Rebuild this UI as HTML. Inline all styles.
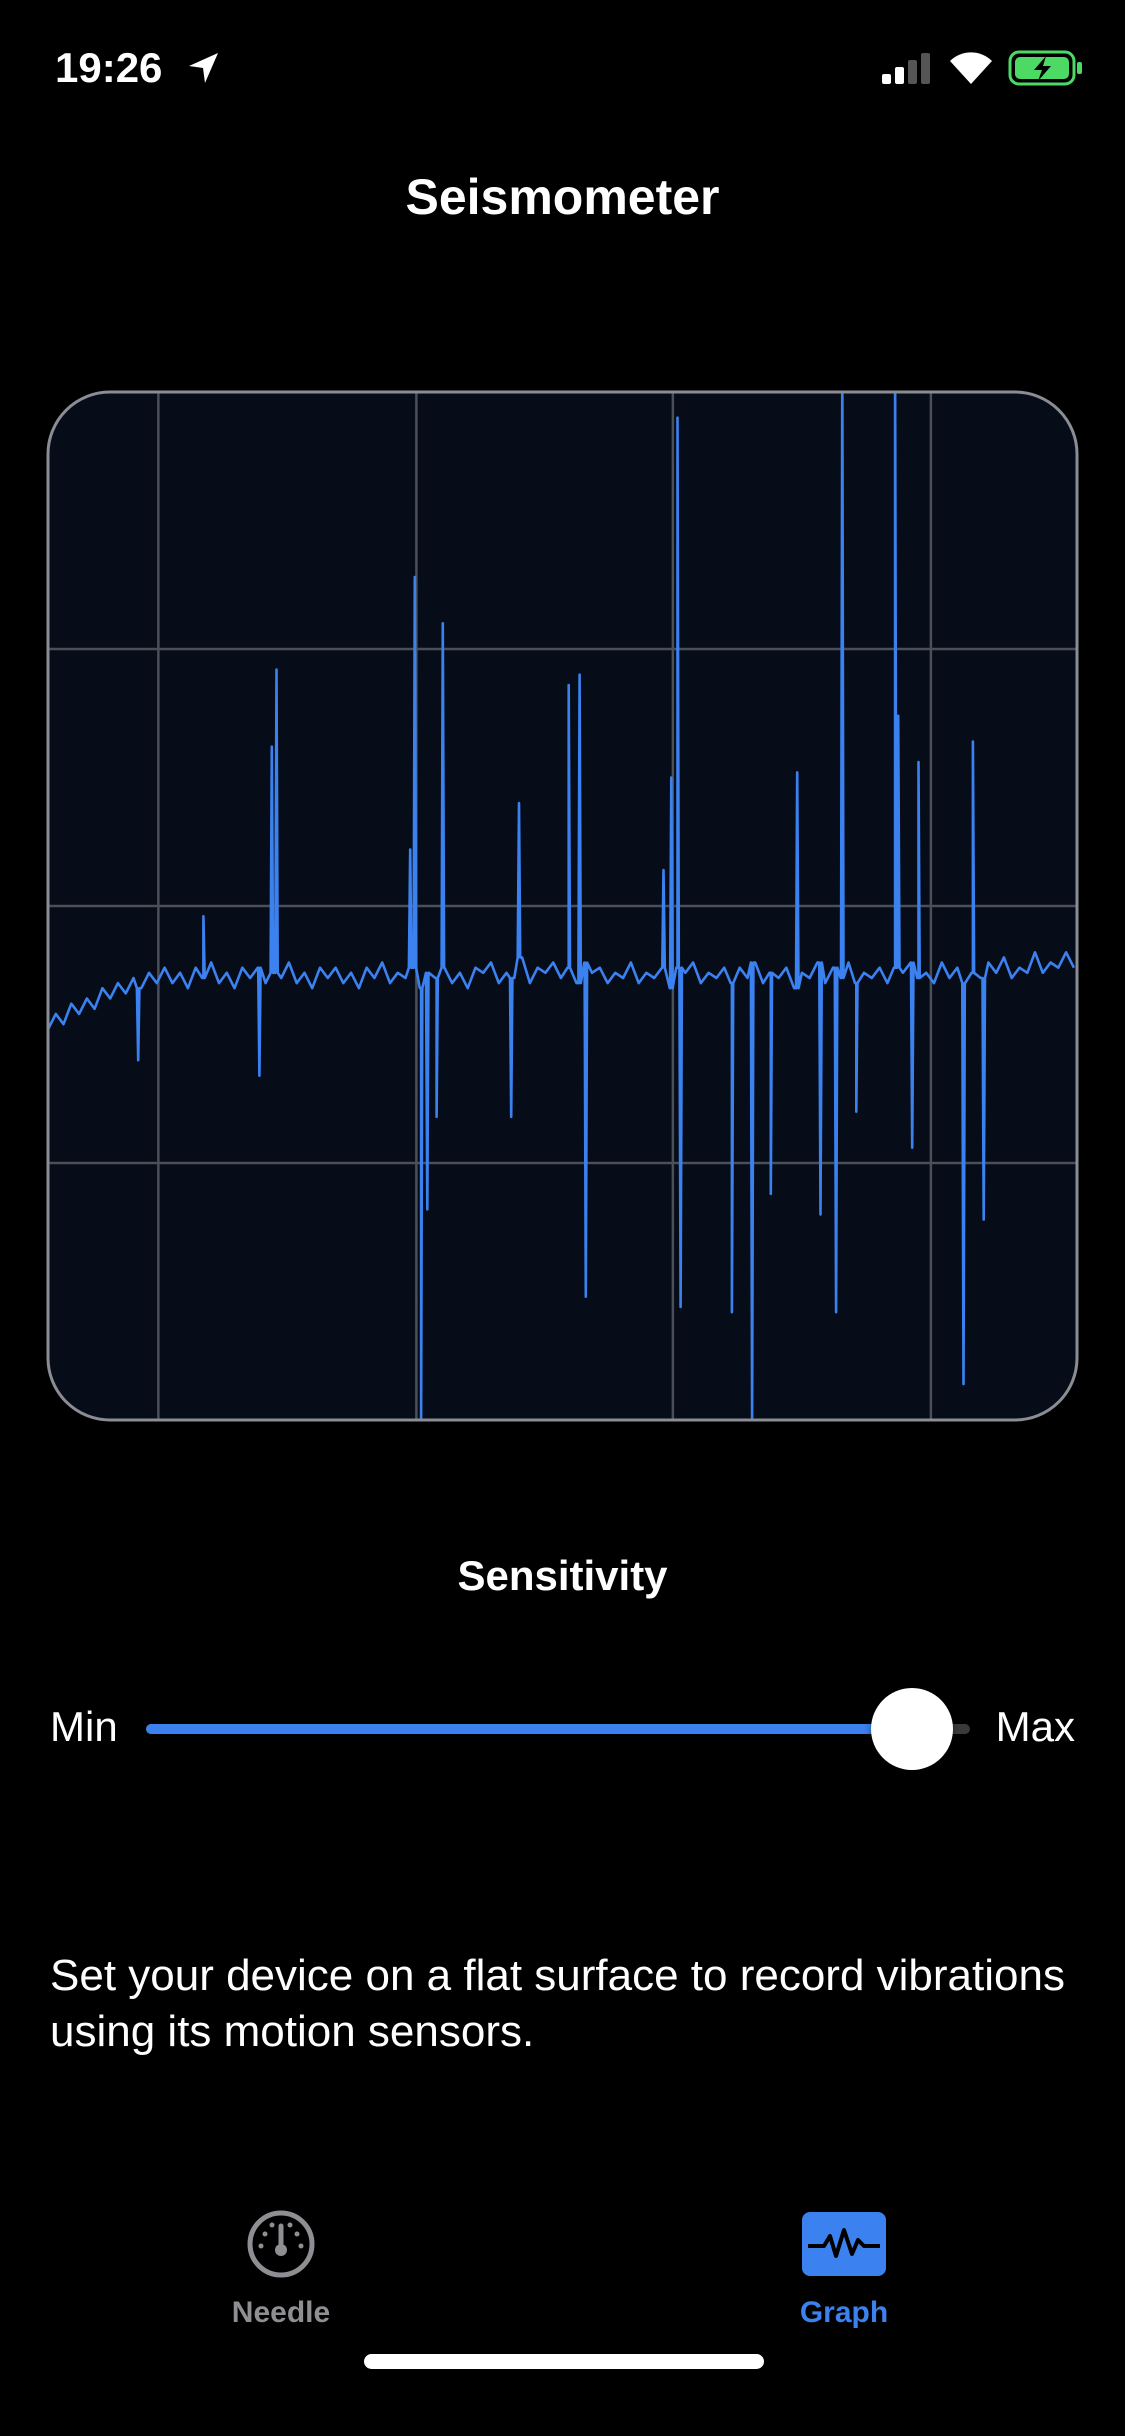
<!DOCTYPE html>
<html><head><meta charset="utf-8">
<style>
html,body{margin:0;padding:0;background:#000;}
body{width:1125px;height:2436px;position:relative;overflow:hidden;font-family:"Liberation Sans",sans-serif;color:#fff;}
.abs{position:absolute;}
</style></head>
<body>
<div class="abs" style="left:55px;top:44px;font-size:42px;font-weight:bold;">19:26</div>
<svg class="abs" style="left:186px;top:50px" width="36" height="36" viewBox="0 0 36 36"><path d="M32 3 L3 16 L17 18 L19 33 Z" fill="#fff"/></svg>
<svg class="abs" style="left:880px;top:50px" width="56" height="36"><rect x="2" y="24" width="9" height="10" rx="2" fill="#fff"/><rect x="15" y="17" width="9" height="17" rx="2" fill="#fff"/><rect x="28" y="10" width="9" height="24" rx="2" fill="#555"/><rect x="41" y="3" width="9" height="31" rx="2" fill="#555"/></svg>
<svg class="abs" style="left:948px;top:48px" width="46" height="38" viewBox="0 0 46 38"><path d="M23 36 L2 13 A30 30 0 0 1 44 13 Z" fill="#fff"/></svg>
<svg class="abs" style="left:1008px;top:50px" width="76" height="36"><rect x="2" y="2" width="64" height="32" rx="9" fill="none" stroke="#4cd964" stroke-width="3"/><rect x="7" y="7" width="54" height="22" rx="5" fill="#4cd964"/><rect x="69" y="12" width="5" height="12" rx="2" fill="#4cd964"/><path d="M38 6 L26 20 L34 20 L30 31 L43 16 L35 16 Z" fill="#000"/></svg>

<div class="abs" style="left:0;width:1125px;top:168px;text-align:center;font-size:50px;font-weight:bold;">Seismometer</div>

<svg class="abs" style="left:0;top:0" width="1125" height="1450" id="chart">
<defs><clipPath id="cp"><rect x="48" y="392" width="1029" height="1028" rx="62"/></clipPath></defs>
<rect x="48" y="392" width="1029" height="1028" rx="62" fill="#060c18"/>
<g id="grid" clip-path="url(#cp)"></g>
<g clip-path="url(#cp)"><polyline id="wave" fill="none" stroke="#3b82f0" stroke-width="2.6" stroke-linejoin="round"/></g>
<rect x="48" y="392" width="1029" height="1028" rx="62" fill="none" stroke="#8a8d93" stroke-width="3"/>
</svg>

<div class="abs" style="left:0;width:1125px;top:1552px;text-align:center;font-size:42px;font-weight:bold;">Sensitivity</div>
<div class="abs" style="left:50px;top:1703px;font-size:42px;">Min</div>
<div class="abs" style="right:50px;top:1703px;font-size:42px;">Max</div>
<div class="abs" style="left:146px;top:1724px;width:824px;height:10px;border-radius:5px;background:#3a3a3c;"></div>
<div class="abs" style="left:146px;top:1724px;width:766px;height:10px;border-radius:5px;background:#3b82f0;"></div>
<div class="abs" style="left:871px;top:1688px;width:82px;height:82px;border-radius:50%;background:#fff;box-shadow:0 3px 8px rgba(0,0,0,.4);"></div>

<div class="abs" style="left:50px;top:1948px;width:1040px;font-size:44px;line-height:56px;">Set your device on a flat surface to record vibrations using its motion sensors.</div>

<div>
<svg class="abs" style="left:245px;top:2208px" width="72" height="72" viewBox="0 0 72 72"><circle cx="36" cy="36" r="31" fill="none" stroke="#8e8e93" stroke-width="5"/><line x1="36" y1="36" x2="36" y2="18" stroke="#8e8e93" stroke-width="5" stroke-linecap="round"/><circle cx="36" cy="42" r="6" fill="#8e8e93"/><circle cx="20" cy="26" r="2.5" fill="#8e8e93"/><circle cx="52" cy="26" r="2.5" fill="#8e8e93"/><circle cx="27" cy="17" r="2.5" fill="#8e8e93"/><circle cx="45" cy="17" r="2.5" fill="#8e8e93"/><circle cx="16" cy="38" r="2.5" fill="#8e8e93"/><circle cx="56" cy="38" r="2.5" fill="#8e8e93"/></svg>
<div class="abs" style="left:181px;width:200px;top:2296px;text-align:center;font-size:30px;font-weight:bold;color:#8e8e93;">Needle</div>
</div>
<div>
<svg class="abs" style="left:802px;top:2212px" width="84" height="64" viewBox="0 0 84 64"><rect width="84" height="64" rx="8" fill="#3b82f0"/><polyline points="6,34 22,34 28,24 34,44 42,18 50,42 56,28 62,34 78,34" fill="none" stroke="#000" stroke-width="4" stroke-linejoin="round"/></svg>
<div class="abs" style="left:744px;width:200px;top:2296px;text-align:center;font-size:30px;font-weight:bold;color:#3b82f0;">Graph</div>
</div>
<div class="abs" style="left:364px;top:2354px;width:400px;height:15px;border-radius:8px;background:#fff;"></div>

<script>
const baseValues = [-0.24,-0.21,-0.23,-0.19,-0.21,-0.18,-0.20,-0.16,-0.18,-0.15,-0.17,-0.14,-0.16,-0.13,-0.15,-0.12,-0.15,-0.13,-0.16,-0.12,-0.14,-0.11,-0.15,-0.13,-0.16,-0.12,-0.14,-0.12,-0.15,-0.13,-0.14,-0.11,-0.15,-0.13,-0.16,-0.12,-0.14,-0.12,-0.15,-0.13,-0.16,-0.12,-0.14,-0.11,-0.15,-0.13,-0.14,-0.12,-0.16,-0.13,-0.14,-0.12,-0.15,-0.13,-0.16,-0.12,-0.13,-0.11,-0.15,-0.13,-0.14,-0.10,-0.15,-0.12,-0.13,-0.11,-0.14,-0.12,-0.15,-0.11,-0.13,-0.12,-0.15,-0.13,-0.14,-0.11,-0.15,-0.13,-0.14,-0.12,-0.16,-0.12,-0.13,-0.11,-0.15,-0.13,-0.14,-0.12,-0.15,-0.12,-0.14,-0.11,-0.15,-0.13,-0.14,-0.12,-0.16,-0.13,-0.14,-0.11,-0.15,-0.12,-0.14,-0.11,-0.15,-0.13,-0.14,-0.12,-0.15,-0.12,-0.13,-0.11,-0.14,-0.13,-0.15,-0.11,-0.14,-0.12,-0.15,-0.13,-0.14,-0.11,-0.13,-0.10,-0.14,-0.12,-0.13,-0.09,-0.13,-0.11,-0.12,-0.09,-0.12];
const spikeTimes = [58,100,136,144,147,233,236,240,244,250,254,298,303,335,342,346,396,401,405,407,440,453,465,482,497,507,511,520,545,547,556,560,589,595,602];
const spikeValues = [-0.30,-0.02,-0.33,0.31,0.46,0.11,0.64,-1.0,-0.59,-0.41,0.55,-0.41,0.20,0.43,0.45,-0.76,0.07,0.25,0.95,-0.78,-0.79,-1.0,-0.56,0.26,-0.60,-0.79,1.05,-0.40,1.05,0.37,-0.47,0.28,-0.93,0.32,-0.61];
const gridTimes = [71,237,402,568];
const gridValues = [0.5,0,-0.5];

const L=48,T=392,W=1029,H=1028,TMAX=662;
function xScale(t){return L + t*W/TMAX;}
function yScale(v){return T + H/2 - v*H/2;}
const NS='http://www.w3.org/2000/svg';
const grid=document.getElementById('grid');
gridTimes.forEach(t=>{
  const l=document.createElementNS(NS,'line');
  
  
  l.setAttribute('x1',xScale(t));l.setAttribute('x2',xScale(t));
  l.setAttribute('y1',T);l.setAttribute('y2',T+H);
  l.setAttribute('stroke','#4b4f57');l.setAttribute('stroke-width','2.5');
  grid.appendChild(l);
});
gridValues.forEach(v=>{
  const l=document.createElementNS(NS,'line');
  
  
  l.setAttribute('x1',L);l.setAttribute('x2',L+W);
  l.setAttribute('y1',yScale(v));l.setAttribute('y2',yScale(v));
  l.setAttribute('stroke','#4b4f57');l.setAttribute('stroke-width','2.5');
  grid.appendChild(l);
});
const pts=[];
baseValues.forEach((v,i)=>pts.push([i*5,v]));
function baseAt(t){const i=Math.min(baseValues.length-1,Math.round(t/5));return baseValues[i];}
spikeTimes.forEach((t,i)=>{pts.push([t-0.8,baseAt(t)]);pts.push([t,spikeValues[i]]);pts.push([t+0.8,baseAt(t)]);});
pts.sort((a,b)=>a[0]-b[0]);
document.getElementById('wave').setAttribute('points',pts.map(p=>xScale(p[0]).toFixed(1)+','+yScale(p[1]).toFixed(1)).join(' '));
</script>
</body></html>
